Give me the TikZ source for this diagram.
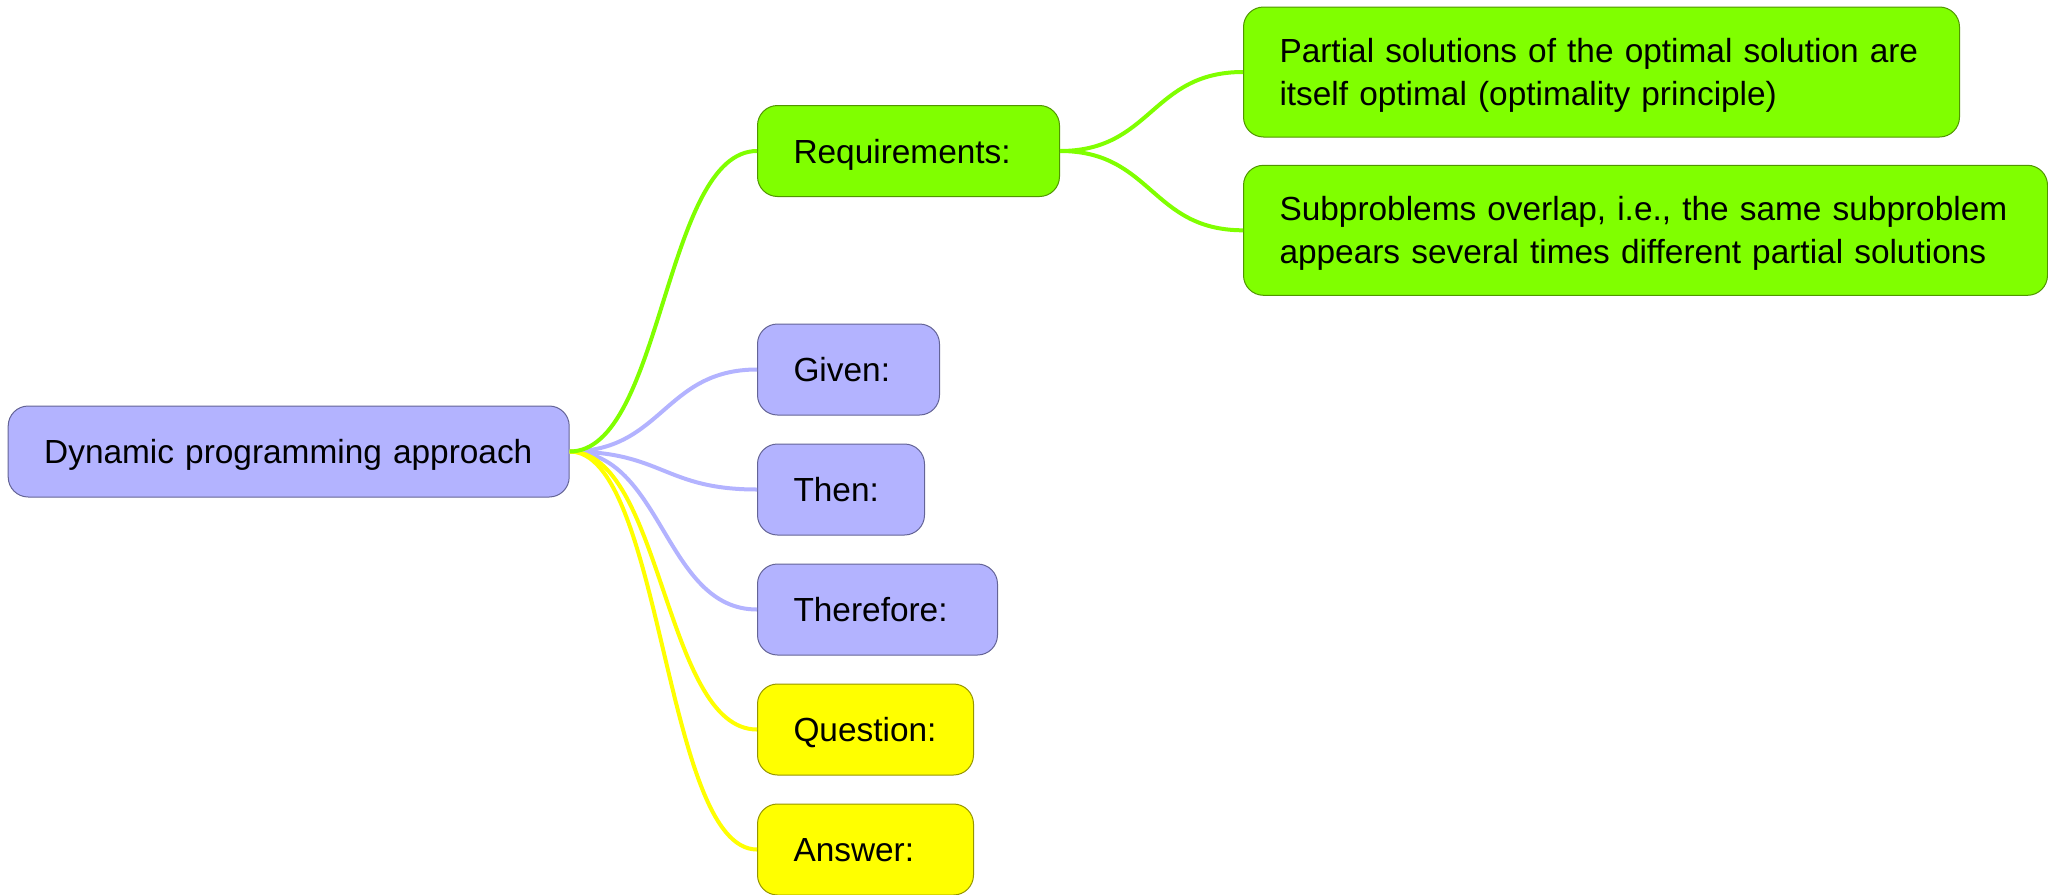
\documentclass[tikz,border=0pt]{standalone}
\usepackage{fontspec}
\setmainfont{Liberation Sans}
\usepackage{tikz}
\definecolor{mmblue}{RGB}{179,179,255}
\definecolor{mmbluedark}{RGB}{100,100,150}
\definecolor{mmgreen}{RGB}{128,255,0}
\definecolor{mmgreendark}{RGB}{80,150,0}
\definecolor{mmyellow}{RGB}{255,255,0}
\definecolor{mmyellowdark}{RGB}{150,150,0}
\tikzset{topic/.style={draw, rounded corners=10pt, line width=0.5pt, anchor=west, align=left,
    inner xsep=18pt, inner ysep=0pt, minimum height=45.5pt, text height=12pt, text depth=0pt,
    font=\fontsize{16.7}{21.5}\selectfont},
  twoline/.style={minimum height=65pt, text depth=21.5pt},
  bluetopic/.style={topic, fill=mmblue, draw=mmbluedark},
  greentopic/.style={topic, fill=mmgreen, draw=mmgreendark},
  yellowtopic/.style={topic, fill=mmyellow, draw=mmyellowdark},
  branch/.style={line width=2pt}}

\begin{document}
\begin{tikzpicture}[x=0.5pt,y=-0.5pt]
    \useasboundingbox (0,0) rectangle (2048,894);
    \node[bluetopic, text width=244.5pt] (root) at (7.7,451.5) {Dynamic programming approach};
    \node[greentopic, text width=115pt] (req) at (757,151) {Requirements:};
    \node[greentopic, twoline, text width=322pt] (partial) at (1243,72) {Partial solutions of the optimal solution are\\itself optimal (optimality principle)};
    \node[greentopic, twoline, text width=366pt] (overlap) at (1243,230.3) {Subproblems overlap, i.e., the same subproblem\\appears several times different partial solutions};
    \node[bluetopic, text width=55pt] (given) at (757,369.5) {Given:};
    \node[bluetopic, text width=47.5pt] (then) at (757,489.5) {Then:};
    \node[bluetopic, text width=84pt] (therefore) at (757,609.5) {Therefore:};
    \node[yellowtopic, text width=72pt] (question) at (757,729.5) {Question:};
    \node[yellowtopic, text width=72pt] (answer) at (757,849.5) {Answer:};
    % branches
    \foreach \child in {given,then,therefore}
      \draw[branch, mmblue] (root.east) .. controls +(93,0) and +(-93,0) .. (\child.west);
    \foreach \child in {question,answer}
      \draw[branch, mmyellow] (root.east) .. controls +(93,0) and +(-93,0) .. (\child.west);
    \draw[branch, mmgreen] (root.east) .. controls +(93,0) and +(-93,0) .. (req.west);
    \draw[branch, mmgreen] (req.east) .. controls +(92,0) and +(-92,0) .. (partial.west);
    \draw[branch, mmgreen] (req.east) .. controls +(92,0) and +(-92,0) .. (overlap.west);
\end{tikzpicture}
\end{document}
